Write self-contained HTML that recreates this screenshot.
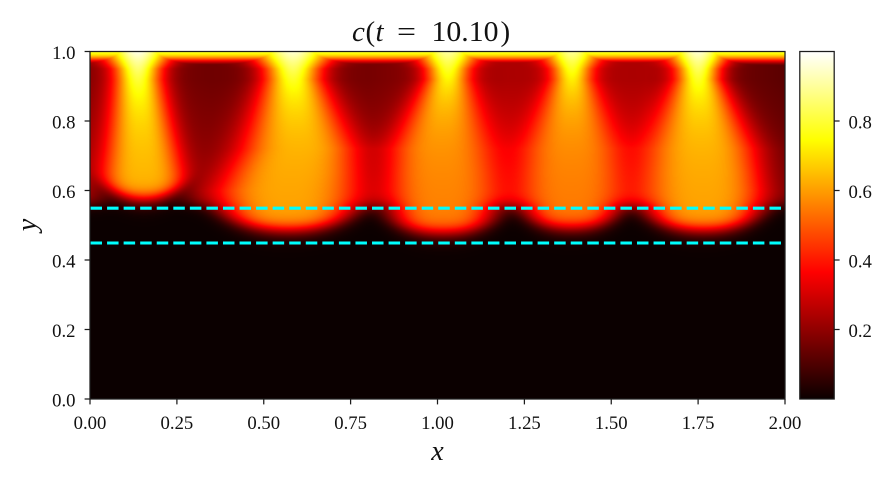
<!DOCTYPE html>
<html>
<head>
<meta charset="utf-8">
<style>
  html,body{margin:0;padding:0;background:#fff;}
  #wrap{position:relative;width:890px;height:481px;overflow:hidden;background:#fff;}
  #fallback{position:absolute;left:90px;top:51px;width:695px;height:348px;
    background:linear-gradient(to bottom,#ffff40 0px,#ff9000 4px,#c01000 12px,#e04000 40px,#f06000 100px,#f06800 150px,#e05000 157px,#a01800 175px,#400400 188px,#0b0000 200px,#0b0000 348px);}
  #cv{position:absolute;left:90px;top:51px;}
  svg{position:absolute;left:0;top:0;}
  text{font-family:"Liberation Serif","DejaVu Serif",serif;fill:#111;}
</style>
</head>
<body>
<div id="wrap">
  <div id="fallback"></div>
  <canvas id="cv" width="695" height="348"></canvas>
  <svg width="890" height="481" viewBox="0 0 890 481">
    <defs>
      <linearGradient id="hot" x1="0" y1="1" x2="0" y2="0">
        <stop offset="0" stop-color="rgb(11,0,0)"/>
        <stop offset="0.365" stop-color="rgb(255,0,0)"/>
        <stop offset="0.746" stop-color="rgb(255,255,0)"/>
        <stop offset="1" stop-color="rgb(255,255,255)"/>
      </linearGradient>
    </defs>

    <!-- dashed lines -->
    <line x1="90.5" y1="208.2" x2="785" y2="208.2" stroke="#00ffff" stroke-width="3.1" stroke-dasharray="11.5 5.06"/>
    <line x1="90.5" y1="243" x2="785" y2="243" stroke="#00ffff" stroke-width="3.1" stroke-dasharray="11.5 5.06"/>

    <!-- frame -->
    <rect x="90" y="51.5" width="695" height="347.5" fill="none" stroke="#1c1c1c" stroke-width="1.25"/>

    <!-- y ticks -->
    <g stroke="#1c1c1c" stroke-width="1.25">
      <line x1="84.6" y1="399" x2="90" y2="399"/>
      <line x1="84.6" y1="329.5" x2="90" y2="329.5"/>
      <line x1="84.6" y1="260" x2="90" y2="260"/>
      <line x1="84.6" y1="190.5" x2="90" y2="190.5"/>
      <line x1="84.6" y1="121" x2="90" y2="121"/>
      <line x1="84.6" y1="51.5" x2="90" y2="51.5"/>
    </g>
    <g font-size="18.7" text-anchor="end">
      <text x="75.5" y="406.5">0.0</text>
      <text x="75.5" y="337">0.2</text>
      <text x="75.5" y="267.5">0.4</text>
      <text x="75.5" y="198">0.6</text>
      <text x="75.5" y="128.5">0.8</text>
      <text x="75.5" y="59">1.0</text>
    </g>

    <!-- x ticks -->
    <g stroke="#1c1c1c" stroke-width="1.25">
      <line x1="90" y1="399" x2="90" y2="404.4"/>
      <line x1="176.9" y1="399" x2="176.9" y2="404.4"/>
      <line x1="263.75" y1="399" x2="263.75" y2="404.4"/>
      <line x1="350.6" y1="399" x2="350.6" y2="404.4"/>
      <line x1="437.5" y1="399" x2="437.5" y2="404.4"/>
      <line x1="524.4" y1="399" x2="524.4" y2="404.4"/>
      <line x1="611.25" y1="399" x2="611.25" y2="404.4"/>
      <line x1="698.1" y1="399" x2="698.1" y2="404.4"/>
      <line x1="785" y1="399" x2="785" y2="404.4"/>
    </g>
    <g font-size="18.7" text-anchor="middle">
      <text x="90" y="429">0.00</text>
      <text x="176.9" y="429">0.25</text>
      <text x="263.75" y="429">0.50</text>
      <text x="350.6" y="429">0.75</text>
      <text x="437.5" y="429">1.00</text>
      <text x="524.4" y="429">1.25</text>
      <text x="611.25" y="429">1.50</text>
      <text x="698.1" y="429">1.75</text>
      <text x="785" y="429">2.00</text>
    </g>

    <!-- axis labels -->
    <text x="437.5" y="460" font-size="28" font-style="italic" text-anchor="middle">x</text>
    <text transform="translate(36,225) rotate(-90)" font-size="28" font-style="italic" text-anchor="middle">y</text>

    <!-- title -->
    <g font-size="29">
      <text x="352" y="41" font-style="italic">c</text>
      <text x="365.5" y="41">(</text>
      <text x="375.5" y="41" font-style="italic">t</text>
      <text x="397" y="41" textLength="19" lengthAdjust="spacingAndGlyphs">=</text>
      <text x="431.5" y="41" textLength="67" lengthAdjust="spacingAndGlyphs">10.10</text>
      <text x="500.5" y="41">)</text>
    </g>

    <!-- colorbar -->
    <rect x="799.8" y="51.5" width="34.4" height="347.5" fill="url(#hot)" stroke="#1c1c1c" stroke-width="1.25"/>
    <g stroke="#1c1c1c" stroke-width="1.25">
      <line x1="834.2" y1="329.5" x2="839.6" y2="329.5"/>
      <line x1="834.2" y1="260" x2="839.6" y2="260"/>
      <line x1="834.2" y1="190.5" x2="839.6" y2="190.5"/>
      <line x1="834.2" y1="121" x2="839.6" y2="121"/>
    </g>
    <g font-size="18.7">
      <text x="848.5" y="337">0.2</text>
      <text x="848.5" y="267.5">0.4</text>
      <text x="848.5" y="198">0.6</text>
      <text x="848.5" y="128.5">0.8</text>
    </g>
  </svg>
</div>
<script>
(function(){
  var cv=document.getElementById('cv');
  if(!cv||!cv.getContext)return;
  var ctx=cv.getContext('2d');
  var W=695,H=348,S=347.5;
  var img=ctx.createImageData(W,H);
  var D=img.data;
  // xcA,xcB,xcC, hwA,hwB,hwC, base, yb, k
  var P=[
    [0.138,0.150,0.155, 0.065,0.100,0.120, 0.62, 0.575, 3.0],
    [0.584,0.600,0.570, 0.078,0.160,0.195, 0.60, 0.486, 1.0],
    [1.030,1.010,1.015, 0.060,0.140,0.150, 0.55, 0.478, 1.2],
    [1.387,1.385,1.385, 0.055,0.130,0.138, 0.54, 0.492, 1.5],
    [1.750,1.760,1.765, 0.060,0.150,0.165, 0.60, 0.486, 1.2]
  ];
  var dX=[0,0.35,0.8,1.2,1.6,1.85,2.0];
  var dV=[0.18,0.15,0.16,0.24,0.24,0.15,0.12];
  function dfun(x){
    for(var q=1;q<dX.length;q++){
      if(x<=dX[q]){var t=(x-dX[q-1])/(dX[q]-dX[q-1]);return dV[q-1]+(dV[q]-dV[q-1])*t;}
    }
    return dV[dV.length-1];
  }
  function sig(z){return 1/(1+Math.exp(-z));}
  function lerp(a,b,t){return a+(b-a)*t;}
  var LN=Math.log(1/0.425);
  var dcache=new Float32Array(W);
  for(var i=0;i<W;i++){dcache[i]=dfun((i+0.5)/S);}
  var xc=new Float32Array(5),hw=new Float32Array(5),pv=new Float32Array(5);
  for(var j=0;j<H;j++){
    var y=1-j/S;
    var u;
    var f=(0.92-y)/0.27; if(f<0)f=0; if(f>1)f=1;
    var ex=2.0+1.3*f;
    var wid=(y-0.95)/0.05; if(wid<0)wid=0; if(wid>1)wid=1;
    var widen=1+0.5*wid;
    for(var p=0;p<5;p++){
      var q=P[p];
      if(y>=0.92){xc[p]=q[0];hw[p]=q[3]*widen;}
      else if(y>=0.72){u=(0.92-y)/0.2;xc[p]=lerp(q[0],q[1],u);hw[p]=lerp(q[3],q[4],u);}
      else if(y>=0.6){u=(0.72-y)/0.12;xc[p]=lerp(q[1],q[2],u);hw[p]=lerp(q[4],q[5],u);}
      else {xc[p]=q[2];hw[p]=q[5];}
      pv[p]=q[6]+0.36*Math.exp(-(1-y)/0.12);
    }
    var bgS=sig((y-0.56)/0.01);
    var dm=1+0.35*f;
    var top=0.85*sig((0.024-(1-y))/0.009);
    for(var i=0;i<W;i++){
      var x=(i+0.5)/S;
      var d=dcache[i]*dm*bgS;
      var s=d;
      for(var p=0;p<5;p++){
        var a=Math.abs(x-xc[p])/hw[p];
        if(a<3.5){
          var G=Math.exp(-LN*Math.pow(a,ex));
          var q=P[p];
          var ddx=x-q[2];
          var yc=q[7]+q[8]*ddx*ddx;
          var Sp=sig((y-yc)/0.013);
          s+=(pv[p]*Sp-d)*G;
        }
      }
      var c=s>top?s:top;
      if(c<0)c=0;if(c>1)c=1;
      var r,g,b;
      if(c<0.365079){r=0.0416+(1-0.0416)*c/0.365079;g=0;b=0;}
      else if(c<0.746032){r=1;g=(c-0.365079)/0.380953;b=0;}
      else {r=1;g=1;b=(c-0.746032)/0.253968;}
      var k=(j*W+i)*4;
      D[k]=Math.round(r*255);D[k+1]=Math.round(g*255);D[k+2]=Math.round(b*255);D[k+3]=255;
    }
  }
  ctx.putImageData(img,0,0);
})();
</script>
</body>
</html>
